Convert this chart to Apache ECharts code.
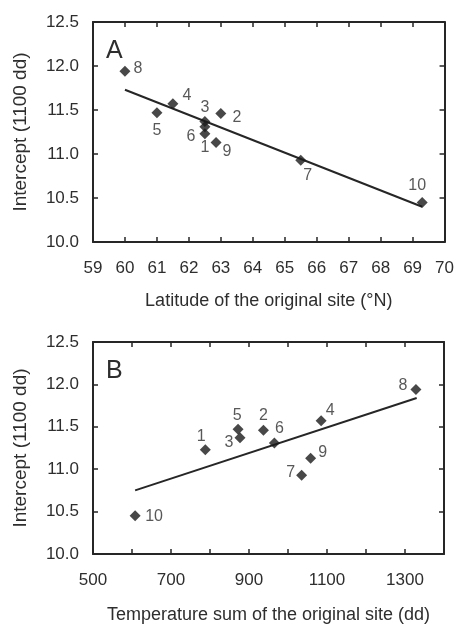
<!DOCTYPE html>
<html>
<head>
<meta charset="utf-8">
<script src="https://cdn.jsdelivr.net/npm/echarts@6/dist/echarts.min.js"></script>
<style>html,body{margin:0;padding:0;background:#fff}#c{width:457px;height:625px}</style>
</head>
<body>
<div id="c"></div>
<script>
// ---- Data ----
const siteIds = ['1','2','3','4','5','6','7','8','9','10'];
const latitude = [62.5, 63.0, 62.5, 61.5, 61.0, 62.5, 65.5, 60.0, 62.85, 69.3];
const tempSum = [788, 937, 877, 1085, 872, 965, 1035, 1328, 1058, 608];
const intercept = [11.23, 11.46, 11.37, 11.57, 11.47, 11.31, 10.93, 11.94, 11.13, 10.45];
const fitA_x = [60.0, 69.3];
const fitA_y = [11.73, 10.40];
const fitB_x = [608, 1330];
const fitB_y = [10.75, 11.84];
const yTicks = [10.0, 10.5, 11.0, 11.5, 12.0, 12.5];

// label placement (style only)
const offA = {'1':[0,14],'2':[16,4],'3':[0,-14],'4':[14,-8],'5':[0,18],'6':[-14,10],'7':[7,15],'8':[13,-3],'9':[11,9],'10':[-5,-17]};
const offB = {'1':[-4,-13],'2':[0,-15],'3':[-11,5],'4':[9,-10],'5':[-1,-14],'6':[5,-14],'7':[-11,-3],'8':[-13,-4],'9':[12,-6],'10':[19,1]};

const TXT = '#2e2e2e';
const LINE = '#262626';
const FONT = 'Liberation Sans, Arial, sans-serif';

function pts(xs, offs) {
  return siteIds.map((id, i) => ({
    value: [xs[i], intercept[i]],
    name: id,
    label: { offset: offs[id] }
  }));
}

function axisBase(extra) {
  return Object.assign({
    type: 'value',
    axisLine: { show: true, onZero: false, lineStyle: { color: LINE, width: 2 } },
    axisTick: { show: true, inside: true, length: 5, lineStyle: { color: LINE, width: 1.5 } },
    splitLine: { show: false },
    axisLabel: { color: TXT, fontSize: 17, fontFamily: FONT },
    nameTextStyle: { color: TXT, fontSize: 18, fontFamily: FONT }
  }, extra);
}

const yMin = yTicks[0], yMax = yTicks[yTicks.length - 1];
const yName = { color: TXT, fontSize: 19, fontFamily: FONT };

const chart = echarts.init(document.getElementById('c'));
chart.setOption({
  animation: false,
  backgroundColor: '#fff',
  grid: [
    { left: 93, top: 22, width: 353, height: 220 },
    { left: 93, top: 342, width: 351, height: 212 }
  ],
  xAxis: [
    axisBase({ gridIndex: 0, min: 59, max: 70, interval: 1, position: 'bottom',
      axisLabel: { color: TXT, fontSize: 17, fontFamily: FONT, margin: 18 },
      name: 'Latitude of the original site (°N)', nameLocation: 'middle', nameGap: 50 }),
    axisBase({ gridIndex: 0, min: 59, max: 70, interval: 1, position: 'top',
      axisLabel: { show: false } }),
    axisBase({ gridIndex: 1, min: 500, max: 1400, interval: 100, position: 'bottom',
      axisLabel: { color: TXT, fontSize: 17, fontFamily: FONT, margin: 18,
        formatter: v => ((v - 500) % 200 === 0 && v < 1400) ? String(v) : '' },
      name: 'Temperature sum of the original site (dd)', nameLocation: 'middle', nameGap: 52 }),
    axisBase({ gridIndex: 1, min: 500, max: 1400, interval: 100, position: 'top',
      axisLabel: { show: false } })
  ],
  yAxis: [
    axisBase({ gridIndex: 0, min: yMin, max: yMax, interval: 0.5, position: 'left',
      axisLabel: { color: TXT, fontSize: 17, fontFamily: FONT, margin: 14, formatter: v => v.toFixed(1) },
      name: 'Intercept (1100 dd)', nameLocation: 'middle', nameGap: 63, nameRotate: 90, nameTextStyle: yName }),
    axisBase({ gridIndex: 0, min: yMin, max: yMax, interval: 0.5, position: 'right',
      axisLabel: { show: false } }),
    axisBase({ gridIndex: 1, min: yMin, max: yMax, interval: 0.5, position: 'left',
      axisLabel: { color: TXT, fontSize: 17, fontFamily: FONT, margin: 14, formatter: v => v.toFixed(1) },
      name: 'Intercept (1100 dd)', nameLocation: 'middle', nameGap: 63, nameRotate: 90, nameTextStyle: yName }),
    axisBase({ gridIndex: 1, min: yMin, max: yMax, interval: 0.5, position: 'right',
      axisLabel: { show: false } })
  ],
  graphic: [
    { type: 'text', left: 106, top: 39, style: { text: 'A', fontSize: 25, fill: TXT, fontFamily: FONT } },
    { type: 'text', left: 106, top: 359, style: { text: 'B', fontSize: 25, fill: TXT, fontFamily: FONT } }
  ],
  series: [
    { type: 'line', xAxisIndex: 0, yAxisIndex: 0, data: fitA_x.map((x, i) => [x, fitA_y[i]]),
      symbol: 'none', lineStyle: { color: LINE, width: 2 }, z: 2 },
    { type: 'scatter', xAxisIndex: 0, yAxisIndex: 0, data: pts(latitude, offA),
      symbol: 'diamond', symbolSize: [11, 11], itemStyle: { color: '#1a1a1a' }, z: 3,
      label: { show: true, position: 'inside', formatter: p => p.name, color: TXT, fontSize: 16, fontFamily: FONT } },
    { type: 'line', xAxisIndex: 2, yAxisIndex: 2, data: fitB_x.map((x, i) => [x, fitB_y[i]]),
      symbol: 'none', lineStyle: { color: LINE, width: 2 }, z: 2 },
    { type: 'scatter', xAxisIndex: 2, yAxisIndex: 2, data: pts(tempSum, offB),
      symbol: 'diamond', symbolSize: [11, 11], itemStyle: { color: '#1a1a1a' }, z: 3,
      label: { show: true, position: 'inside', formatter: p => p.name, color: TXT, fontSize: 16, fontFamily: FONT } }
  ]
});
</script>
</body>
</html>
